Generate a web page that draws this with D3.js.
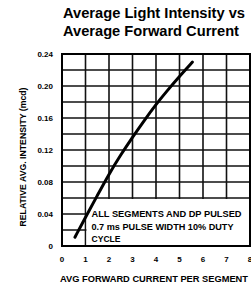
<!DOCTYPE html>
<html>
<head>
<meta charset="utf-8">
<script src="https://cdn.jsdelivr.net/npm/d3@7"></script>
<style>
  body { margin: 0; background: #fff; }
  svg { display: block; font-family: "Liberation Sans", Arial, sans-serif; }
</style>
</head>
<body>
<script>
// curve
const current = [0.55, 1, 1.5, 2, 2.5, 3, 3.5, 4, 4.5, 5, 5.55];
const intensity = [0.011, 0.036, 0.063, 0.09, 0.114, 0.136, 0.157, 0.177, 0.195, 0.212, 0.23];

const xTicks = [0, 1, 2, 3, 4, 5, 6, 7, 8];
const yTicks = [0, 0.04, 0.08, 0.12, 0.16, 0.20, 0.24];
const yGrid = d3.range(0, 0.2401, 0.02);

const titleLines = ["Average Light Intensity vs", "Average Forward Current"];
const noteLines = ["ALL SEGMENTS AND DP PULSED", "0.7 ms PULSE WIDTH 10% DUTY", "CYCLE"];

const width = 251, height = 285;
const margin = {top: 54, right: 1, bottom: 39, left: 62};

const svg = d3.select("body").append("svg")
    .attr("width", width)
    .attr("height", height);

const x = d3.scaleLinear().domain([0, 8]).range([margin.left, width - margin.right]);
const y = d3.scaleLinear().domain([0, 0.24]).range([height - margin.bottom, margin.top]);

// title
svg.selectAll(".title")
    .data(titleLines)
    .enter().append("text")
    .attr("x", 63)
    .attr("y", (d, i) => 18 + i * 18)
    .attr("font-size", 14)
    .attr("font-weight", "bold")
    .attr("textLength", (d, i) => i == 0 ? 182 : 176)
    .attr("lengthAdjust", "spacingAndGlyphs")
    .text(d => d);

// grid
svg.append("g").selectAll("line")
    .data(yGrid)
    .enter().append("line")
    .attr("x1", x(0)).attr("x2", x(8))
    .attr("y1", d => y(d)).attr("y2", d => y(d))
    .attr("stroke", "#111")
    .attr("stroke-width", 1.6);

svg.append("g").selectAll("line")
    .data(xTicks)
    .enter().append("line")
    .attr("x1", d => x(d)).attr("x2", d => x(d))
    .attr("y1", y(0)).attr("y2", y(0.24))
    .attr("stroke", "#111")
    .attr("stroke-width", 1.6);

// note box hides the grid under it
svg.append("rect")
    .attr("x", x(1) + 1)
    .attr("y", y(0.06) + 1)
    .attr("width", x(8) - x(1))
    .attr("height", y(0) - y(0.06) - 1)
    .attr("fill", "#fff");

// frame
svg.append("rect")
    .attr("x", x(0))
    .attr("y", y(0.24))
    .attr("width", x(8) - x(0))
    .attr("height", y(0) - y(0.24))
    .attr("fill", "none")
    .attr("stroke", "#000")
    .attr("stroke-width", 2);

// curve
const line = d3.line()
    .x((d, i) => x(current[i]))
    .y(d => y(d))
    .curve(d3.curveBasis);

svg.append("path")
    .attr("d", line(intensity))
    .attr("fill", "none")
    .attr("stroke", "#000")
    .attr("stroke-width", 3)
    .attr("stroke-linecap", "round");

// note text
svg.selectAll(".note")
    .data(noteLines)
    .enter().append("text")
    .attr("x", x(1) + 6)
    .attr("y", (d, i) => [217, 230, 242][i])
    .attr("font-size", 8.8)
    .attr("font-weight", "bold")
    .attr("textLength", (d, i) => [150, 142, 29][i])
    .attr("lengthAdjust", "spacingAndGlyphs")
    .text(d => d);

// tick labels
svg.append("g").selectAll("text")
    .data(yTicks)
    .enter().append("text")
    .attr("x", 53)
    .attr("y", d => y(d) + 3)
    .attr("text-anchor", "end")
    .attr("font-size", 8)
    .attr("font-weight", "bold")
    .text(d => d == 0 ? "0" : d3.format(".2f")(d));

svg.append("g").selectAll("text")
    .data(xTicks)
    .enter().append("text")
    .attr("x", d => x(d))
    .attr("y", 262)
    .attr("text-anchor", "middle")
    .attr("font-size", 8)
    .attr("font-weight", "bold")
    .text(d => d);

// axis titles
svg.append("text")
    .attr("transform", "translate(26,157) rotate(-90)")
    .attr("text-anchor", "middle")
    .attr("font-size", 8.5)
    .attr("font-weight", "bold")
    .attr("textLength", 139)
    .attr("lengthAdjust", "spacingAndGlyphs")
    .text("RELATIVE AVG. INTENSITY (mcd)");

svg.append("text")
    .attr("x", 60)
    .attr("y", 282)
    .attr("font-size", 8.5)
    .attr("font-weight", "bold")
    .attr("textLength", 188)
    .attr("lengthAdjust", "spacingAndGlyphs")
    .text("AVG FORWARD CURRENT PER SEGMENT");
</script>
</body>
</html>
